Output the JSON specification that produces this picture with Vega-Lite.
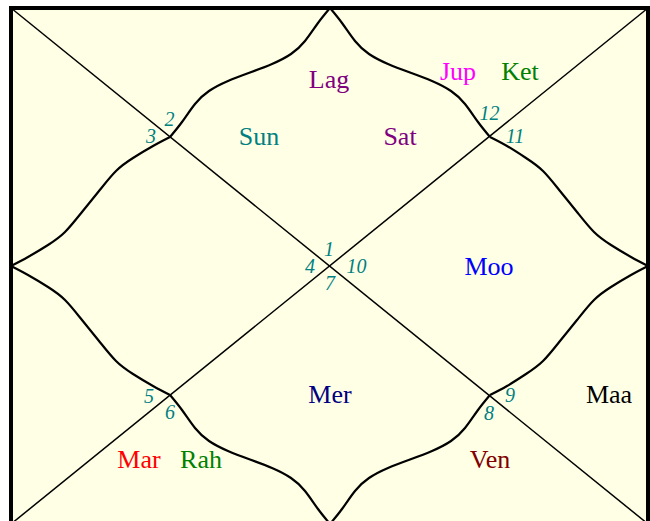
{
  "$schema": "https://vega.github.io/schema/vega-lite/v6.json",
  "width": 650,
  "height": 521,
  "autosize": {"type": "none"},
  "padding": 0,
  "background": "white",
  "config": {"view": {"stroke": null}},
  "datasets": {
    "frame": [{"x": 11, "x2": 648, "y": 8, "y2": 524}],
    "diag": [
      {"x": 11, "y": 8, "x2": 648, "y2": 524},
      {"x": 648, "y": 8, "x2": 11, "y2": 524}
    ],
    "curves": [
      {"s": "A_TL", "i": 0, "x": 330, "y": 8},
      {"s": "A_TL", "i": 1, "x": 318, "y": 23},
      {"s": "A_TL", "i": 2, "x": 305, "y": 41},
      {"s": "A_TL", "i": 3, "x": 291, "y": 54},
      {"s": "A_TL", "i": 4, "x": 272, "y": 64},
      {"s": "A_TL", "i": 5, "x": 250, "y": 72.5},
      {"s": "A_TL", "i": 6, "x": 228, "y": 81},
      {"s": "A_TL", "i": 7, "x": 209, "y": 91},
      {"s": "A_TL", "i": 8, "x": 195, "y": 104},
      {"s": "A_TL", "i": 9, "x": 182, "y": 122},
      {"s": "A_TL", "i": 10, "x": 170, "y": 137},

      {"s": "A_TR", "i": 0, "x": 330, "y": 8},
      {"s": "A_TR", "i": 1, "x": 342, "y": 23},
      {"s": "A_TR", "i": 2, "x": 355, "y": 41},
      {"s": "A_TR", "i": 3, "x": 369, "y": 54},
      {"s": "A_TR", "i": 4, "x": 388, "y": 64},
      {"s": "A_TR", "i": 5, "x": 410, "y": 72.5},
      {"s": "A_TR", "i": 6, "x": 432, "y": 81},
      {"s": "A_TR", "i": 7, "x": 451, "y": 91},
      {"s": "A_TR", "i": 8, "x": 465, "y": 104},
      {"s": "A_TR", "i": 9, "x": 478, "y": 122},
      {"s": "A_TR", "i": 10, "x": 490, "y": 137},

      {"s": "A_BL", "i": 0, "x": 330, "y": 524},
      {"s": "A_BL", "i": 1, "x": 318, "y": 509},
      {"s": "A_BL", "i": 2, "x": 305, "y": 491},
      {"s": "A_BL", "i": 3, "x": 291, "y": 478},
      {"s": "A_BL", "i": 4, "x": 272, "y": 468},
      {"s": "A_BL", "i": 5, "x": 250, "y": 459.5},
      {"s": "A_BL", "i": 6, "x": 228, "y": 451},
      {"s": "A_BL", "i": 7, "x": 209, "y": 441},
      {"s": "A_BL", "i": 8, "x": 195, "y": 428},
      {"s": "A_BL", "i": 9, "x": 182, "y": 410},
      {"s": "A_BL", "i": 10, "x": 170, "y": 395},

      {"s": "A_BR", "i": 0, "x": 330, "y": 524},
      {"s": "A_BR", "i": 1, "x": 342, "y": 509},
      {"s": "A_BR", "i": 2, "x": 355, "y": 491},
      {"s": "A_BR", "i": 3, "x": 369, "y": 478},
      {"s": "A_BR", "i": 4, "x": 388, "y": 468},
      {"s": "A_BR", "i": 5, "x": 410, "y": 459.5},
      {"s": "A_BR", "i": 6, "x": 432, "y": 451},
      {"s": "A_BR", "i": 7, "x": 451, "y": 441},
      {"s": "A_BR", "i": 8, "x": 465, "y": 428},
      {"s": "A_BR", "i": 9, "x": 478, "y": 410},
      {"s": "A_BR", "i": 10, "x": 490, "y": 395},

      {"s": "B_TL", "i": 0, "x": 11, "y": 266},
      {"s": "B_TL", "i": 1, "x": 28, "y": 257},
      {"s": "B_TL", "i": 2, "x": 48, "y": 245},
      {"s": "B_TL", "i": 3, "x": 65, "y": 232},
      {"s": "B_TL", "i": 4, "x": 82, "y": 212},
      {"s": "B_TL", "i": 6, "x": 99, "y": 191},
      {"s": "B_TL", "i": 7, "x": 116, "y": 171},
      {"s": "B_TL", "i": 8, "x": 133, "y": 158},
      {"s": "B_TL", "i": 9, "x": 153, "y": 146},
      {"s": "B_TL", "i": 10, "x": 170, "y": 137},

      {"s": "B_BL", "i": 0, "x": 11, "y": 266},
      {"s": "B_BL", "i": 1, "x": 28, "y": 275},
      {"s": "B_BL", "i": 2, "x": 48, "y": 287},
      {"s": "B_BL", "i": 3, "x": 65, "y": 300},
      {"s": "B_BL", "i": 4, "x": 82, "y": 320},
      {"s": "B_BL", "i": 6, "x": 99, "y": 341},
      {"s": "B_BL", "i": 7, "x": 116, "y": 361},
      {"s": "B_BL", "i": 8, "x": 133, "y": 374},
      {"s": "B_BL", "i": 9, "x": 153, "y": 386},
      {"s": "B_BL", "i": 10, "x": 170, "y": 395},

      {"s": "B_TR", "i": 0, "x": 648, "y": 266},
      {"s": "B_TR", "i": 1, "x": 631, "y": 257},
      {"s": "B_TR", "i": 2, "x": 611, "y": 245},
      {"s": "B_TR", "i": 3, "x": 594, "y": 232},
      {"s": "B_TR", "i": 4, "x": 577, "y": 212},
      {"s": "B_TR", "i": 6, "x": 560, "y": 191},
      {"s": "B_TR", "i": 7, "x": 543, "y": 171},
      {"s": "B_TR", "i": 8, "x": 526, "y": 158},
      {"s": "B_TR", "i": 9, "x": 507, "y": 146},
      {"s": "B_TR", "i": 10, "x": 490, "y": 137},

      {"s": "B_BR", "i": 0, "x": 648, "y": 266},
      {"s": "B_BR", "i": 1, "x": 631, "y": 275},
      {"s": "B_BR", "i": 2, "x": 611, "y": 287},
      {"s": "B_BR", "i": 3, "x": 594, "y": 300},
      {"s": "B_BR", "i": 4, "x": 577, "y": 320},
      {"s": "B_BR", "i": 6, "x": 560, "y": 341},
      {"s": "B_BR", "i": 7, "x": 543, "y": 361},
      {"s": "B_BR", "i": 8, "x": 526, "y": 374},
      {"s": "B_BR", "i": 9, "x": 507, "y": 386},
      {"s": "B_BR", "i": 10, "x": 490, "y": 395}
    ],
    "planets": [
      {"t": "Lag", "x": 329, "y": 88},
      {"t": "Jup", "x": 458, "y": 80},
      {"t": "Ket", "x": 520, "y": 80},
      {"t": "Sun", "x": 259, "y": 145},
      {"t": "Sat", "x": 400, "y": 145},
      {"t": "Moo", "x": 489, "y": 275},
      {"t": "Mer", "x": 330, "y": 403},
      {"t": "Maa", "x": 609, "y": 403},
      {"t": "Mar", "x": 139, "y": 468},
      {"t": "Rah", "x": 201, "y": 468},
      {"t": "Ven", "x": 490, "y": 468}
    ],
    "houses": [
      {"t": "1", "x": 329, "y": 256},
      {"t": "2", "x": 169.5, "y": 126},
      {"t": "3", "x": 151, "y": 143},
      {"t": "4", "x": 310, "y": 273},
      {"t": "5", "x": 149, "y": 402.5},
      {"t": "6", "x": 170, "y": 419},
      {"t": "7", "x": 330, "y": 290},
      {"t": "8", "x": 489, "y": 420},
      {"t": "9", "x": 510, "y": 401.5},
      {"t": "10", "x": 356.5, "y": 273},
      {"t": "11", "x": 515, "y": 143},
      {"t": "12", "x": 489.5, "y": 120}
    ]
  },
  "layer": [
    {
      "data": {"name": "frame"},
      "mark": {"type": "rect", "fill": "#FFFFE6", "stroke": "black", "strokeWidth": 4},
      "encoding": {
        "x": {"field": "x", "type": "quantitative", "scale": {"domain": [0, 650], "nice": false, "zero": false}, "axis": null},
        "x2": {"field": "x2"},
        "y": {"field": "y", "type": "quantitative", "scale": {"domain": [0, 521], "nice": false, "zero": false, "reverse": true}, "axis": null},
        "y2": {"field": "y2"}
      }
    },
    {
      "data": {"name": "diag"},
      "mark": {"type": "rule", "stroke": "black", "strokeWidth": 1.5},
      "encoding": {
        "x": {"field": "x", "type": "quantitative", "axis": null},
        "x2": {"field": "x2"},
        "y": {"field": "y", "type": "quantitative", "axis": null},
        "y2": {"field": "y2"}
      }
    },
    {
      "data": {"name": "curves"},
      "mark": {"type": "line", "interpolate": "natural", "stroke": "black", "strokeWidth": 2.2},
      "encoding": {
        "x": {"field": "x", "type": "quantitative", "axis": null},
        "y": {"field": "y", "type": "quantitative", "axis": null},
        "detail": {"field": "s", "type": "nominal"},
        "order": {"field": "i", "type": "quantitative"}
      }
    },
    {
      "data": {"name": "planets"},
      "mark": {"type": "text", "font": "Liberation Serif", "fontSize": 26, "align": "center", "baseline": "alphabetic"},
      "encoding": {
        "x": {"field": "x", "type": "quantitative", "axis": null},
        "y": {"field": "y", "type": "quantitative", "axis": null},
        "text": {"field": "t", "type": "nominal"},
        "color": {
          "field": "t", "type": "nominal", "legend": null,
          "scale": {
            "domain": ["Lag", "Jup", "Ket", "Sun", "Sat", "Moo", "Mer", "Maa", "Mar", "Rah", "Ven"],
            "range": ["#800080", "#FF00FF", "#008000", "#008080", "#800080", "#0000FF", "#000080", "#000000", "#FF0000", "#008000", "#800000"]
          }
        }
      }
    },
    {
      "data": {"name": "houses"},
      "mark": {"type": "text", "font": "Liberation Serif", "fontSize": 20, "fontStyle": "italic", "align": "center", "baseline": "alphabetic", "color": "#008080"},
      "encoding": {
        "x": {"field": "x", "type": "quantitative", "axis": null},
        "y": {"field": "y", "type": "quantitative", "axis": null},
        "text": {"field": "t", "type": "nominal"}
      }
    }
  ]
}
